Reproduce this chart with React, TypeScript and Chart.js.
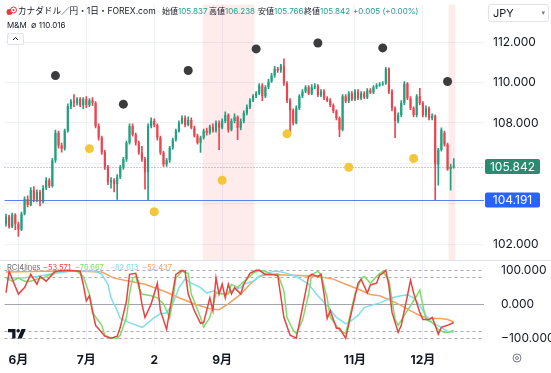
import React, { useEffect, useRef } from "react";
import { Chart, registerables } from "chart.js";

Chart.register(...registerables);

// ---------- price data (daily candles, CAD/JPY) ----------
const opens = [
  103.02, 103.37, 102.88, 103.46, 103.02, 102.73, 103.51, 104.24, 103.95, 104.68,
  104.20, 104.59, 104.10, 104.78, 105.17, 104.88, 106.15, 107.51, 106.88, 106.73,
  107.61, 108.83, 109.07, 108.98, 109.17, 108.88, 109.17, 108.88, 109.12, 108.98,
  107.85, 107.27, 106.54, 105.81, 105.07, 105.17, 104.98, 105.32, 105.81, 106.20,
  107.02, 107.85, 107.42, 107.02, 106.54, 106.20, 105.56, 107.85, 108.10, 107.90,
  107.27, 106.54, 105.95, 106.15, 106.78, 107.17, 107.61, 108.00, 108.24, 107.90,
  108.15, 107.76, 107.37, 107.02, 107.27, 107.61, 107.51, 107.81, 107.61, 108.00,
  107.76, 108.10, 108.39, 107.66, 108.10, 108.29, 107.76, 108.10, 108.49, 108.78,
  109.12, 109.32, 109.46, 109.85, 109.32, 109.76, 110.05, 110.34, 110.68, 110.59,
  110.83, 109.95, 109.12, 108.63, 108.00, 108.73, 109.32, 109.56, 109.76, 109.46,
  109.76, 109.81, 109.37, 109.56, 109.22, 109.12, 108.88, 108.59, 108.24, 107.66,
  109.32, 109.07, 109.46, 109.17, 109.56, 109.22, 109.46, 109.27, 109.61, 109.51,
  109.76, 109.85, 109.90, 109.95, 110.68, 109.56, 108.73, 108.10, 108.39, 108.98,
  109.95, 109.22, 108.73, 108.39, 109.32, 108.98, 108.39, 108.73, 108.24, 108.34,
  105.95, 106.68, 107.51, 106.93, 105.71, 105.837,
];
const highs = [
  103.50, 103.45, 103.55, 103.52, 103.10, 103.60, 104.35, 104.40, 104.80, 104.85,
  104.70, 104.68, 104.90, 105.30, 105.25, 106.25, 107.65, 107.60, 107.00, 107.70,
  108.95, 109.15, 109.40, 109.25, 109.25, 109.25, 109.30, 109.20, 109.25, 109.05,
  107.95, 107.35, 106.65, 105.90, 105.30, 105.25, 105.45, 105.90, 106.30, 107.10,
  107.95, 107.95, 107.50, 107.10, 106.85, 106.30, 107.95, 108.25, 108.20, 107.95,
  107.35, 106.60, 106.25, 106.85, 107.25, 107.70, 108.10, 108.35, 108.35, 108.30,
  108.25, 107.85, 107.45, 107.35, 107.70, 107.75, 107.90, 107.95, 108.10, 108.10,
  108.20, 108.55, 108.45, 108.20, 108.45, 108.35, 108.20, 108.60, 108.90, 109.20,
  109.40, 109.55, 109.95, 109.95, 109.85, 110.15, 110.45, 110.80, 110.75, 110.90,
  111.17, 110.05, 109.20, 108.70, 108.85, 109.40, 109.65, 109.85, 109.85, 109.90,
  109.95, 109.90, 109.65, 109.65, 109.30, 109.20, 108.95, 108.65, 108.30, 109.40,
  109.40, 109.55, 109.55, 109.65, 109.65, 109.55, 109.55, 109.70, 109.70, 109.85,
  109.95, 110.00, 110.05, 110.75, 110.72, 109.65, 108.80, 108.50, 109.10, 110.05,
  110.00, 109.30, 108.80, 109.40, 109.71, 109.05, 108.85, 108.80, 108.45, 108.40,
  106.75, 107.76, 107.60, 107.00, 105.95, 106.238,
];
const lows = [
  102.90, 102.80, 102.82, 102.73, 102.39, 102.68, 103.45, 103.85, 103.90, 104.10,
  104.10, 103.90, 104.05, 104.70, 104.80, 104.82, 106.05, 106.75, 106.55, 106.65,
  107.55, 108.70, 108.80, 108.88, 108.80, 108.70, 108.75, 108.80, 108.85, 107.75,
  107.15, 106.45, 105.70, 104.95, 104.78, 104.59, 104.22, 105.25, 105.70, 106.10,
  106.95, 107.35, 106.90, 106.45, 106.10, 104.73, 104.19, 107.75, 107.80, 107.15,
  106.45, 105.85, 105.85, 106.05, 106.70, 107.10, 107.55, 107.95, 107.80, 107.85,
  107.70, 107.30, 106.95, 106.54, 107.20, 107.40, 107.45, 107.55, 107.55, 106.68,
  107.70, 108.00, 107.55, 107.60, 108.00, 107.17, 107.65, 108.00, 108.40, 108.70,
  109.05, 109.25, 109.40, 109.10, 109.25, 109.70, 110.00, 110.25, 110.50, 110.50,
  109.85, 109.00, 107.42, 107.90, 107.95, 108.65, 109.25, 109.50, 109.40, 109.40,
  109.70, 109.30, 109.30, 109.15, 109.05, 108.80, 108.50, 108.15, 107.32, 107.60,
  109.00, 109.00, 109.10, 109.10, 109.15, 109.15, 109.20, 109.20, 109.45, 109.45,
  109.70, 109.80, 109.85, 109.90, 109.45, 108.60, 107.27, 108.00, 108.30, 108.90,
  109.15, 108.65, 108.30, 108.30, 108.90, 108.30, 108.30, 108.15, 108.15, 104.19,
  104.93, 106.60, 106.85, 105.65, 104.68, 105.766,
];
const closes = [
  103.37, 102.88, 103.46, 103.02, 102.73, 103.51, 104.24, 103.95, 104.68, 104.20,
  104.59, 104.10, 104.78, 105.17, 104.88, 106.15, 107.51, 106.88, 106.73, 107.61,
  108.83, 109.07, 108.98, 109.17, 108.88, 109.17, 108.88, 109.12, 108.98, 107.85,
  107.27, 106.54, 105.81, 105.07, 105.17, 104.98, 105.32, 105.81, 106.20, 107.02,
  107.85, 107.42, 107.02, 106.54, 106.20, 105.56, 107.85, 108.10, 107.90, 107.27,
  106.54, 105.95, 106.15, 106.78, 107.17, 107.61, 108.00, 108.24, 107.90, 108.15,
  107.76, 107.37, 107.02, 107.27, 107.61, 107.51, 107.81, 107.61, 108.00, 107.76,
  108.10, 108.39, 107.66, 108.10, 108.29, 107.76, 108.10, 108.49, 108.78, 109.12,
  109.32, 109.46, 109.85, 109.32, 109.76, 110.05, 110.34, 110.68, 110.59, 110.83,
  109.95, 109.12, 108.63, 108.00, 108.73, 109.32, 109.56, 109.76, 109.46, 109.76,
  109.81, 109.37, 109.56, 109.22, 109.12, 108.88, 108.59, 108.24, 107.66, 109.32,
  109.07, 109.46, 109.17, 109.56, 109.22, 109.46, 109.27, 109.61, 109.51, 109.76,
  109.85, 109.90, 109.95, 110.68, 109.56, 108.73, 108.10, 108.39, 108.98, 109.95,
  109.22, 108.73, 108.39, 109.32, 108.98, 108.39, 108.73, 108.24, 108.34, 105.95,
  106.68, 107.66, 106.93, 105.71, 105.84, 105.842,
];

// ---------- time axis ----------
const monthTickIdx = [4, 26, 48, 70, 113, 135];
const monthTickLabels = ["6月", "7月", "2", "9月", "11月", "12月"];

// ---------- swing markers ----------
const swingHighIdx = [16, 38, 59, 81, 101, 122, 143];
const swingHighVal = [110.34, 108.93, 110.59, 111.66, 111.95, 111.71, 110.05];
const swingLowIdx = [27, 48, 70, 91, 111, 132];
const swingLowVal = [106.73, 103.61, 105.17, 107.46, 105.81, 106.24];

// ---------- highlighted sessions (bar index ranges) ----------
const bandStart = [63.7, 143.3];
const bandEnd = [80.4, 145.5];

// ---------- price levels ----------
const priceTicks = [102, 104, 106, 108, 110, 112];
const hiddenPriceLabels = [104, 106];
const lastPrice = 105.842;
const supportLevel = 104.191;

// ---------- RCI 4 lines: [bar index, value] ----------
const rciFast: [number, number][] = [
  [0, 34], [1, 97], [4, 30], [6, 49], [8, 88], [10, 59], [11, 82], [13, 68], [15, 88], [16, 97],
  [20, 100], [24, 97], [25, 59], [26, 10], [27, 25], [28, -19], [29, -62], [32, -94], [34, -100], [36, -94],
  [37, -68], [39, 10], [40, 88], [42, 91], [43, 59], [44, 1], [45, -39], [47, 1], [49, 62], [50, -19],
  [52, -74], [53, -19], [55, 88], [57, 100], [58, 97], [59, 30], [61, -19], [63, -56], [64, -54], [66, 19],
  [67, -19], [68, 78], [69, 30], [70, 59], [71, 19], [72, 59], [73, 30], [74, 49], [76, 30], [77, 59],
  [79, 91], [81, 100], [82, 100], [84, 88], [86, 88], [88, 85], [90, -39], [92, -91], [94, -100], [95, -56],
  [98, 82], [99, 88], [101, 82], [102, 88], [103, 30], [104, -42], [105, -19], [107, -71], [108, -71], [110, -100],
  [112, -19], [114, 62], [115, 74], [117, 33], [118, 57], [120, 62], [121, 86], [122, 91], [123, 100], [124, 54],
  [125, -24], [127, -83], [128, -62], [130, 25], [131, 71], [132, 33], [134, -24], [135, -45], [137, -45], [138, -39],
  [139, -62], [140, -88], [141, -68], [143, -62], [145, -53.571],
];
const rciMid: [number, number][] = [
  [0, 77], [2, 68], [4, 77], [6, 68], [8, 68], [10, 74], [12, 77], [15, 91], [17, 97], [23, 97],
  [25, 82], [27, 30], [28, -25], [31, -62], [32, -91], [34, -100], [36, -100], [37, -91], [39, -39], [40, 30],
  [41, 77], [42, 82], [43, 49], [44, 30], [47, 25], [49, 19], [51, 1], [53, -39], [54, 10], [55, 77],
  [57, 97], [59, 91], [60, 30], [63, -39], [64, -68], [66, -39], [68, 33], [70, 30], [72, 30], [73, 59],
  [75, 49], [76, 59], [78, 74], [80, 91], [82, 100], [84, 97], [86, 88], [88, 90], [90, 39], [91, -39],
  [93, -77], [94, -86], [96, -48], [98, 30], [99, 88], [101, 97], [102, 88], [104, 19], [105, -39], [107, -62],
  [108, -77], [110, -86], [111, -48], [113, 30], [115, 74], [116, 82], [118, 62], [120, 82], [122, 97], [124, 71],
  [125, 13], [126, -45], [127, -62], [129, -33], [131, -4], [133, 25], [134, 42], [135, -4], [136, -45], [138, -54],
  [140, -74], [142, -83], [143, -83], [145, -76.667],
];
const rciLong: [number, number][] = [
  [0, 77], [5, 77], [10, 82], [16, 91], [21, 97], [29, 97], [31, 88], [33, 59], [34, 19], [36, -19],
  [37, -42], [40, -54], [44, -68], [45, -62], [48, -39], [50, -28], [52, -25], [54, 1], [56, 49], [58, 74],
  [60, 62], [63, 49], [65, 33], [67, 39], [69, 33], [71, 30], [73, 39], [76, 49], [77, 59], [80, 68],
  [82, 82], [84, 91], [87, 97], [88, 97], [91, 91], [94, 82], [98, 59], [101, 25], [104, -4], [107, -39],
  [110, -57], [111, -54], [114, -33], [116, -10], [118, -4], [121, 4], [125, 19], [128, 25], [130, 28], [132, 19],
  [134, -4], [136, -33], [138, -54], [141, -68], [143, -80], [145, -82.613],
];
const rciSlow: [number, number][] = [
  [0, 95], [12, 97], [24, 97], [31, 95], [35, 77], [40, 68], [45, 59], [51, 39], [56, 19], [61, 1],
  [66, -13], [69, -16], [72, 1], [76, 30], [79, 59], [82, 82], [85, 88], [88, 87], [95, 85], [101, 82],
  [106, 74], [110, 59], [114, 45], [118, 29], [121, 25], [125, 10], [128, -4], [131, -19], [134, -33], [137, -42],
  [141, -42], [143, -45], [145, -52.437],
];
const rciTicks = [100, 0, -100];
const rciLevels = [100, 80, -80, -100];

// ---------- legend texts ----------
const ohlcLabels = ["始値", "高値", "安値", "終値"];
const ohlcValues = ["105.837", "106.238", "105.766", "105.842"];
const changeText = "+0.005 (+0.00%)";
const rciLegendValues = ["−53.571", "−76.667", "−82.613", "−52.437"];

const FONT = 'Inter, "Noto Sans CJK JP", "Noto Sans", "DejaVu Sans", sans-serif';
const UP = "#22a07f";
const DOWN = "#ea4650";
const RCI_COLORS = ["#ea433f", "#7fdb6a", "#7ee0e8", "#f2a263"];

const noPad = (s: any) => {
  s.paddingTop = 0;
  s.paddingBottom = 0;
  s.paddingLeft = 0;
  s.paddingRight = 0;
};

const overlayPlugin = {
  id: "tvOverlay",
  beforeDatasetsDraw(chart: any) {
    const { ctx, chartArea } = chart;
    const xs = chart.scales.x;
    const ys = chart.scales.y;
    const y2 = chart.scales.y2;
    ctx.save();
    // highlighted session bands (price pane only)
    ctx.fillStyle = "rgba(242,54,69,0.10)";
    for (let k = 0; k < bandStart.length; k++) {
      const l = xs.getPixelForValue(bandStart[k]);
      const r = xs.getPixelForValue(bandEnd[k]);
      ctx.fillRect(l, ys.top, r - l, ys.bottom - ys.top);
    }
    // RCI levels
    ctx.lineWidth = 1;
    ctx.strokeStyle = "#a9acb4";
    ctx.setLineDash([3, 3]);
    for (const lv of rciLevels) {
      const py = Math.round(y2.getPixelForValue(lv)) + 0.5;
      ctx.beginPath();
      ctx.moveTo(chartArea.left, py);
      ctx.lineTo(chartArea.right, py);
      ctx.stroke();
    }
    ctx.setLineDash([]);
    ctx.strokeStyle = "#a3a6ae";
    const z = Math.round(y2.getPixelForValue(0)) + 0.5;
    ctx.beginPath();
    ctx.moveTo(chartArea.left, z);
    ctx.lineTo(chartArea.right, z);
    ctx.stroke();
    // support line
    const sy = Math.round(ys.getPixelForValue(supportLevel)) + 0.5;
    ctx.strokeStyle = "#5b80f2";
    ctx.beginPath();
    ctx.moveTo(chartArea.left, sy);
    ctx.lineTo(chartArea.right, sy);
    ctx.stroke();
    // last price dotted line
    const ly = Math.round(ys.getPixelForValue(lastPrice)) + 0.5;
    ctx.strokeStyle = "#9598a1";
    ctx.setLineDash([1, 2]);
    ctx.beginPath();
    ctx.moveTo(chartArea.left, ly);
    ctx.lineTo(chartArea.right, ly);
    ctx.stroke();
    ctx.restore();
  },
  afterDraw(chart: any) {
    const { ctx } = chart;
    const ys = chart.scales.y;
    ctx.save();
    // pane separator
    ctx.strokeStyle = "#e0e3eb";
    ctx.lineWidth = 1;
    const sep = Math.round(ys.bottom) + 0.5;
    ctx.beginPath();
    ctx.moveTo(0, sep);
    ctx.lineTo(chart.width, sep);
    ctx.stroke();
    // price tags
    const tag = (val: number, bg: string) => {
      const py = ys.getPixelForValue(val);
      const x0 = ys.left + 1;
      const w = 55;
      const h = 15;
      ctx.fillStyle = bg;
      ctx.beginPath();
      if ((ctx as any).roundRect) (ctx as any).roundRect(x0, py - h / 2, w, h, 2);
      else ctx.rect(x0, py - h / 2, w, h);
      ctx.fill();
      ctx.fillStyle = "#ffffff";
      ctx.font = `12px ${FONT}`;
      ctx.textAlign = "center";
      ctx.textBaseline = "middle";
      ctx.fillText(val.toFixed(3), x0 + w / 2, py + 0.5);
    };
    tag(lastPrice, "#2b8a70");
    tag(supportLevel, "#2962ff");
    ctx.restore();
  },
};

export default function App() {
  const ref = useRef<HTMLCanvasElement>(null);

  useEffect(() => {
    const canvas = ref.current;
    if (!canvas) return;
    const idx = closes.map((_, i) => i);
    const colors = closes.map((c, i) => (c >= opens[i] ? UP : DOWN));
    const rciSets = [rciFast, rciMid, rciLong, rciSlow].map((arr, k) => ({
      type: "line" as const,
      data: arr.map(([x, y]) => ({ x, y })),
      borderColor: RCI_COLORS[k],
      borderWidth: 1.5,
      pointRadius: 0,
      tension: 0,
      yAxisID: "y2",
      order: 1 + k,
    }));

    const chart = new Chart(canvas, {
      type: "bar",
      data: {
        datasets: [
          {
            type: "line",
            data: swingHighIdx.map((x, k) => ({ x, y: swingHighVal[k] })),
            showLine: false,
            pointRadius: 4.5,
            pointBackgroundColor: "#3c3c3e",
            pointBorderWidth: 0,
            yAxisID: "y",
            order: 0,
          },
          {
            type: "line",
            data: swingLowIdx.map((x, k) => ({ x, y: swingLowVal[k] })),
            showLine: false,
            pointRadius: 4.5,
            pointBackgroundColor: "#f6c63a",
            pointBorderWidth: 0,
            yAxisID: "y",
            order: 0,
          },
          ...rciSets,
          {
            type: "bar",
            data: idx.map((i) => ({ x: i, y: [opens[i], closes[i]] })),
            backgroundColor: colors,
            barPercentage: 0.7,
            categoryPercentage: 1,
            grouped: false,
            minBarLength: 1,
            yAxisID: "y",
            order: 6,
          },
          {
            type: "bar",
            data: idx.map((i) => ({ x: i, y: [lows[i], highs[i]] })),
            backgroundColor: colors,
            barThickness: 1,
            grouped: false,
            yAxisID: "y",
            order: 7,
          },
        ] as any,
      },
      options: {
        responsive: false,
        animation: false,
        devicePixelRatio: 1,
        events: [],
        layout: { padding: 0 },
        plugins: { legend: { display: false }, tooltip: { enabled: false } },
        scales: {
          x: {
            type: "linear",
            min: -0.5,
            max: 154.8,
            offset: false,
            grid: { color: "#eef1f5", drawTicks: false, offset: false },
            border: { display: false },
            afterBuildTicks: (s: any) => {
              s.ticks = monthTickIdx.map((v) => ({ value: v }));
            },
            afterFit: (s: any) => {
              s.height = 28;
              noPad(s);
            },
            ticks: {
              autoSkip: false,
              maxRotation: 0,
              padding: 8,
              color: "#131722",
              font: { size: 12, weight: "bold", family: FONT },
              callback: (_v: any, i: number) => monthTickLabels[i],
            },
          },
          y: {
            type: "linear",
            position: "right",
            stack: "panes",
            stackWeight: 259,
            min: 101.22,
            max: 113.854,
            beginAtZero: false,
            grid: { color: "#eef1f5", drawTicks: false },
            border: { display: false },
            afterBuildTicks: (s: any) => {
              s.ticks = priceTicks.map((v) => ({ value: v }));
            },
            afterFit: (s: any) => {
              s.width = 67;
              noPad(s);
            },
            ticks: {
              padding: 9,
              color: "#131722",
              font: { size: 12, family: FONT },
              callback: (v: any) => (hiddenPriceLabels.includes(v) ? "" : Number(v).toFixed(3)),
            },
          },
          y2: {
            type: "linear",
            position: "right",
            stack: "panes",
            stackWeight: 86,
            min: -120,
            max: 130,
            beginAtZero: false,
            grid: { display: false },
            border: { display: false },
            afterBuildTicks: (s: any) => {
              s.ticks = rciTicks.map((v) => ({ value: v }));
            },
            afterFit: (s: any) => {
              s.width = 67;
              noPad(s);
            },
            ticks: {
              padding: 9,
              color: "#131722",
              font: { size: 12, family: FONT },
              callback: (v: any) => (Number(v) < 0 ? "−" + Math.abs(v).toFixed(3) : Number(v).toFixed(3)),
            },
          },
        },
      } as any,
      plugins: [overlayPlugin],
    });
    return () => chart.destroy();
  }, []);

  const legendX = [43, 75, 110, 142];
  const ohlcX = [162, 209, 258, 304];

  return (
    <div
      style={{
        position: "fixed",
        left: 0,
        top: 0,
        width: 551,
        height: 373,
        background: "#ffffff",
        overflow: "hidden",
        fontFamily: FONT,
      }}
    >
      <canvas ref={ref} width={551} height={373} style={{ position: "absolute", left: 0, top: 0 }} />

      {/* symbol icon */}
      <svg style={{ position: "absolute", left: 6, top: 6 }} width={11} height={10} viewBox="0 0 11 10">
        <circle cx={3.5} cy={6} r={3} fill="#e53b3e" />
        <circle cx={7.5} cy={4} r={3} fill="#ffffff" stroke="#e53b3e" strokeWidth={1} />
        <circle cx={7.5} cy={4} r={1.1} fill="#e53b3e" />
      </svg>
      <div
        style={{
          position: "absolute",
          left: 18,
          top: 5,
          fontSize: 8.6,
          lineHeight: "12px",
          color: "#131722",
          whiteSpace: "nowrap",
        }}
      >
        カナダドル／円・1日・FOREX.com
      </div>
      {ohlcLabels.map((lab, k) => (
        <div
          key={lab}
          style={{
            position: "absolute",
            left: ohlcX[k],
            top: 6,
            fontSize: 8,
            lineHeight: "11px",
            whiteSpace: "nowrap",
          }}
        >
          <span style={{ color: "#131722" }}>{lab}</span>
          <span style={{ color: "#22a08a" }}>{ohlcValues[k]}</span>
        </div>
      ))}
      <div
        style={{
          position: "absolute",
          left: 353,
          top: 6,
          fontSize: 8,
          lineHeight: "11px",
          color: "#22a08a",
          whiteSpace: "nowrap",
        }}
      >
        {changeText}
      </div>
      <div
        style={{
          position: "absolute",
          left: 7,
          top: 20,
          fontSize: 8,
          lineHeight: "11px",
          color: "#131722",
          whiteSpace: "nowrap",
        }}
      >
        M&amp;M&nbsp; ∅ 110.016
      </div>
      {/* collapse button */}
      <div
        style={{
          position: "absolute",
          left: 7,
          top: 33,
          width: 15,
          height: 10,
          border: "1px solid #e0e3eb",
          borderRadius: 2,
          background: "#fff",
        }}
      >
        <svg width={15} height={10} viewBox="0 0 15 10" style={{ display: "block" }}>
          <path d="M5 6 L7.5 3.5 L10 6" fill="none" stroke="#131722" strokeWidth={1} />
        </svg>
      </div>

      {/* currency selector */}
      <div
        style={{
          position: "absolute",
          left: 488,
          top: 4,
          width: 59,
          height: 16,
          border: "1px solid #e0e3eb",
          borderRadius: 3,
          background: "#fff",
        }}
      >
        <span style={{ position: "absolute", left: 4, top: 1, fontSize: 11, lineHeight: "14px", color: "#131722" }}>JPY</span>
        <span style={{ position: "absolute", right: 3, top: 1, fontSize: 7, lineHeight: "14px", color: "#787b86" }}>▾</span>
      </div>

      {/* RCI legend */}
      <div
        style={{
          position: "absolute",
          left: 7,
          top: 263,
          fontSize: 7.5,
          lineHeight: "10px",
          color: "#6a6d78",
          whiteSpace: "nowrap",
        }}
      >
        RCI4lines
      </div>
      {rciLegendValues.map((v, k) => (
        <div
          key={k}
          style={{
            position: "absolute",
            left: legendX[k],
            top: 263,
            fontSize: 7.5,
            lineHeight: "10px",
            color: RCI_COLORS[k],
            whiteSpace: "nowrap",
          }}
        >
          {v}
        </div>
      ))}

      {/* TradingView logo */}
      <svg style={{ position: "absolute", left: 8, top: 329 }} width={18} height={10} viewBox="0 0 18 10">
        <path d="M0 0 H7.5 V9.5 H4.2 V3.3 H0 Z" fill="#131722" />
        <circle cx={10.2} cy={1.7} r={1.7} fill="#131722" />
        <path d="M13.5 0 H17.8 L13.8 9.5 H9.6 Z" fill="#131722" />
      </svg>

      {/* settings icon */}
      <svg style={{ position: "absolute", left: 512, top: 353 }} width={10} height={10} viewBox="0 0 10 10">
        <circle cx={5} cy={5} r={4} fill="none" stroke="#787b86" strokeWidth={1} />
        <circle cx={5} cy={5} r={1.5} fill="none" stroke="#787b86" strokeWidth={1} />
      </svg>
    </div>
  );
}
